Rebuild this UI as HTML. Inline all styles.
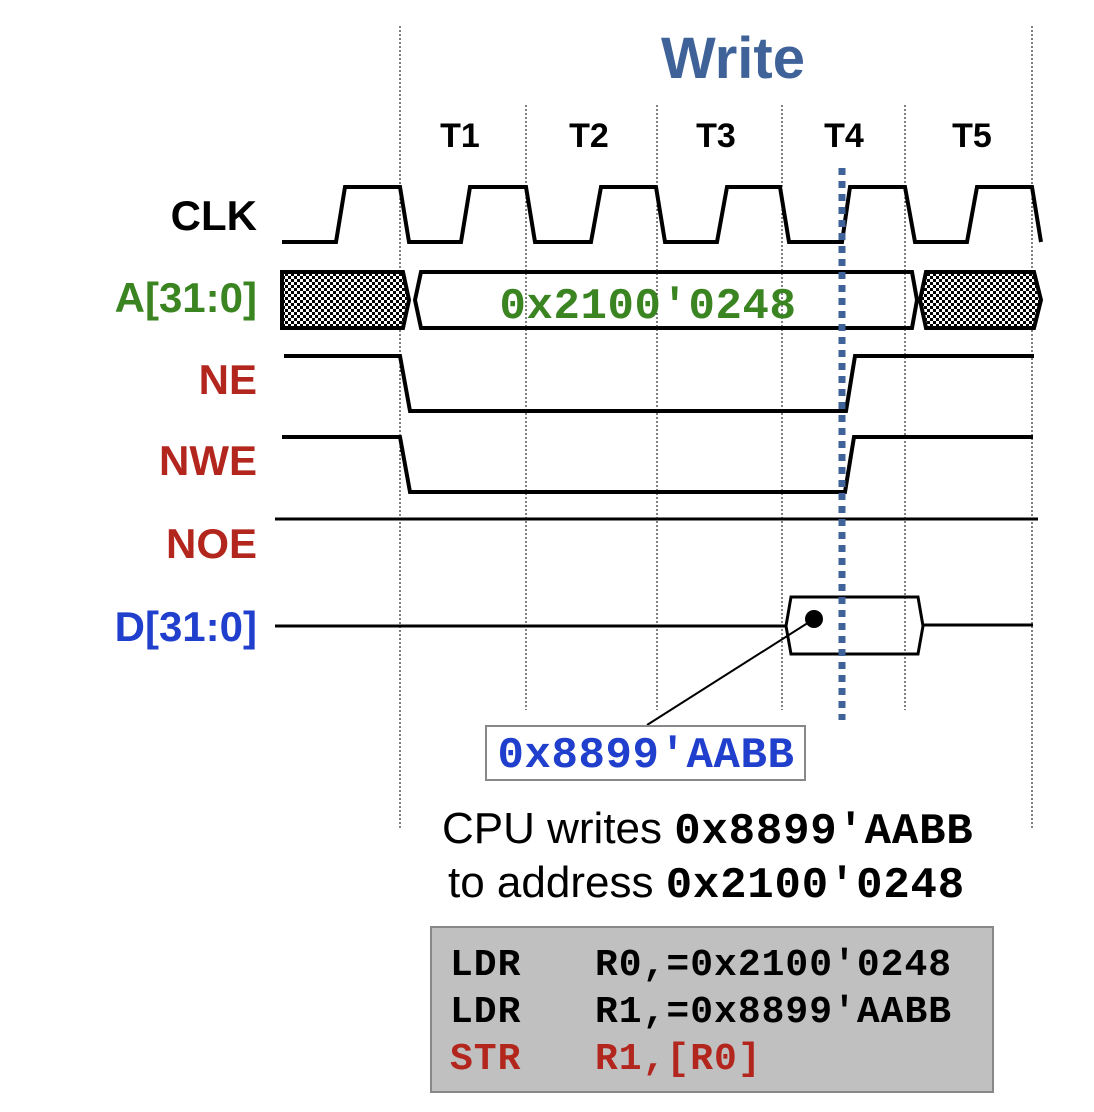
<!DOCTYPE html>
<html><head><meta charset="utf-8"><style>
html,body{margin:0;padding:0;background:#fff;}
svg{display:block;}
.lab{font-family:"Liberation Sans",sans-serif;font-weight:bold;font-size:42px;text-anchor:end;}
.t{font-family:"Liberation Sans",sans-serif;font-weight:bold;font-size:34px;text-anchor:middle;}
.mono{font-family:"Liberation Mono",monospace;font-weight:bold;}
</style></head><body>
<svg width="1094" height="1112" viewBox="0 0 1094 1112" xmlns="http://www.w3.org/2000/svg">
<defs>
<pattern id="chk" width="6" height="6" patternUnits="userSpaceOnUse">
<rect width="6" height="6" fill="#fff"/><rect width="3" height="3" fill="#000"/><rect x="3" y="3" width="3" height="3" fill="#000"/>
</pattern>
</defs>
<g stroke="#000" stroke-width="1" stroke-dasharray="2,2" fill="none">
<line x1="400" y1="26" x2="400" y2="830"/>
<line x1="1032" y1="26" x2="1032" y2="830"/>
<line x1="526" y1="105" x2="526" y2="710"/>
<line x1="657" y1="105" x2="657" y2="710"/>
<line x1="782" y1="105" x2="782" y2="710"/>
<line x1="905" y1="105" x2="905" y2="710"/>
</g>
<text x="733" y="78" font-family="Liberation Sans,sans-serif" font-weight="bold" font-size="58" fill="#3f6399" text-anchor="middle">Write</text>
<text class="t" x="460" y="147">T1</text>
<text class="t" x="589" y="147">T2</text>
<text class="t" x="716" y="147">T3</text>
<text class="t" x="844" y="147">T4</text>
<text class="t" x="972" y="147">T5</text>

<text class="lab" x="257" y="230" fill="#000">CLK</text>
<text class="lab" x="257" y="312" fill="#3a8421">A[31:0]</text>
<text class="lab" x="257" y="394" fill="#b3261e">NE</text>
<text class="lab" x="257" y="475" fill="#b3261e">NWE</text>
<text class="lab" x="257" y="558" fill="#b3261e">NOE</text>
<text class="lab" x="257" y="641" fill="#1f3fcc">D[31:0]</text>

<g stroke="#000" stroke-width="4" fill="none" stroke-linejoin="miter">
<polyline points="282,242 336,242 345,187 400,187 409,242 461,242 470,187 526,187 535,242 591,242 601,187 656,187 665,242 717,242 727,187 780,187 789,242 842,242 850,187 905,187 915,242 967,242 977,187 1032,187 1041,242"/>
<polygon points="282,272 403,272 409,300 403,328 282,328" fill="url(#chk)"/>
<polygon points="421,272 912,272 917,300 912,328 421,328 415,300"/>
<polygon points="926,272 1034,272 1041,300 1034,328 926,328 920,300" fill="url(#chk)"/>
<polyline points="284,356 400,356 410,411 846,411 855,356 1034,356"/>
<polyline points="282,437 400,437 410,492 845,492 854,437 1033,437"/>
</g>
<line x1="275" y1="519" x2="1038" y2="519" stroke="#000" stroke-width="3"/>
<g stroke="#000" stroke-width="3" fill="none">
<line x1="275" y1="626" x2="786" y2="626"/>
<polygon points="791,597 918,597 923,626 918,654 791,654 786,626"/>
<line x1="923" y1="625" x2="1033" y2="625"/>
</g>
<text x="648" y="318" class="mono" font-size="44" fill="#3a8421" text-anchor="middle" letter-spacing="0.6">0x2100'0248</text>
<line x1="842" y1="168" x2="842" y2="720" stroke="#3f6399" stroke-width="7" stroke-dasharray="7,6"/>
<circle cx="814" cy="619" r="9" fill="#000"/>
<line x1="814" y1="619" x2="647" y2="725" stroke="#000" stroke-width="2"/>
<rect x="486" y="726" width="319" height="54" fill="#fff" stroke="#888" stroke-width="2"/>
<text x="646" y="767" class="mono" font-size="44" fill="#1f3fcc" text-anchor="middle" letter-spacing="0.6">0x8899'AABB</text>

<text x="442" y="843" font-family="Liberation Sans,sans-serif" font-size="44" fill="#000">CPU writes <tspan class="mono" font-size="44" letter-spacing="0.8">0x8899'AABB</tspan></text>
<text x="448" y="897" font-family="Liberation Sans,sans-serif" font-size="44" fill="#000">to address <tspan class="mono" font-size="44" letter-spacing="0.8">0x2100'0248</tspan></text>

<rect x="431" y="927" width="562" height="165" fill="#c0c0c0" stroke="#888" stroke-width="2"/>
<g class="mono" font-size="38" letter-spacing="1">
<text x="450" y="975" fill="#000">LDR</text><text x="595" y="975" fill="#000">R0,=0x2100'0248</text>
<text x="450" y="1022" fill="#000">LDR</text><text x="595" y="1022" fill="#000">R1,=0x8899'AABB</text>
<text x="450" y="1069" fill="#b3261e">STR</text><text x="595" y="1069" fill="#b3261e">R1,[R0]</text>
</g>
</svg>
</body></html>
